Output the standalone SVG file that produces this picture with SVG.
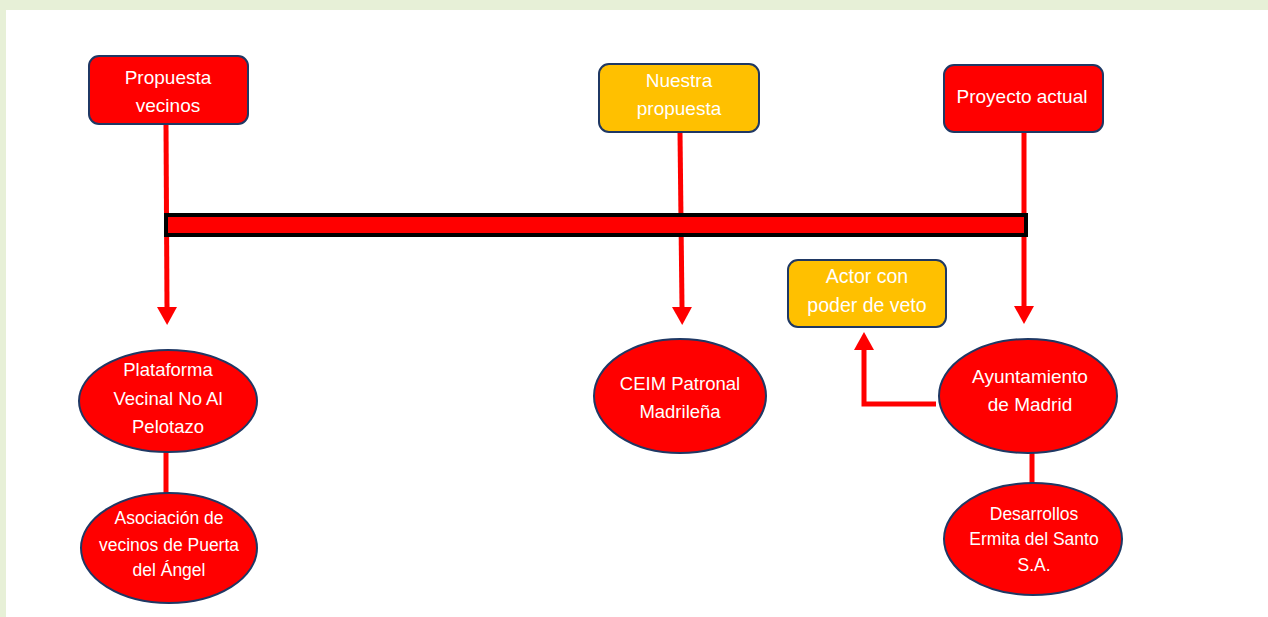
<svg xmlns="http://www.w3.org/2000/svg" width="1268" height="617" viewBox="0 0 1268 617">
<style>
.box{stroke:#1F3864;stroke-width:2}
.red{fill:#FF0000}
.org{fill:#FFC000}
.t{fill:#FFFFFF;font-family:"Liberation Sans",Arial,sans-serif;text-anchor:middle}
.ln{stroke:#FF0000;stroke-width:5;fill:none}
</style>
<defs>
<marker id="ah" markerUnits="userSpaceOnUse" markerWidth="18" markerHeight="20" refX="0" refY="10" orient="auto" viewBox="0 0 18 20">
<path d="M0,0 L18,10 L0,20 z" fill="#FF0000"/>
</marker>
</defs>
<rect x="0" y="0" width="1268" height="617" fill="#E7F0D7"/>
<rect x="6" y="10" width="1262" height="607" fill="#FFFFFF"/>
<g id="connectors">
<path class="ln" d="M166,124 L167,307" marker-end="url(#ah)"/>
<path class="ln" d="M680,132 L682,307" marker-end="url(#ah)"/>
<path class="ln" d="M1024,133 L1024,306" marker-end="url(#ah)"/>
<path class="ln" d="M936,404 L864,404 L864,350" marker-end="url(#ah)"/>
<path class="ln" d="M166,452 L166,494"/>
<path class="ln" d="M1032,452 L1032,484"/>
</g>
<g id="timeline">
<rect x="166" y="215" width="860" height="20" fill="#FF0000" stroke="#000000" stroke-width="4"/>
</g>
<g id="propuesta-vecinos">
<rect class="box red" x="89" y="56" width="159" height="68" rx="10"/>
<text class="t" font-size="19" x="168" y="84">Propuesta</text>
<text class="t" font-size="19" x="168" y="112">vecinos</text>
</g>
<g id="nuestra-propuesta">
<rect class="box org" x="599" y="64" width="160" height="68" rx="10"/>
<text class="t" font-size="19" x="679" y="87">Nuestra</text>
<text class="t" font-size="19" x="679" y="115">propuesta</text>
</g>
<g id="proyecto-actual">
<rect class="box red" x="944" y="65" width="159" height="67" rx="10"/>
<text class="t" font-size="19" x="1022" y="103">Proyecto actual</text>
</g>
<g id="actor-veto">
<rect class="box org" x="788" y="260" width="158" height="67" rx="10"/>
<text class="t" font-size="19.5" x="867" y="283">Actor con</text>
<text class="t" font-size="19.5" x="867" y="312">poder de veto</text>
</g>
<g id="plataforma">
<ellipse class="box red" cx="168" cy="401" rx="89" ry="51"/>
<text class="t" font-size="18.5" x="168" y="376">Plataforma</text>
<text class="t" font-size="18.5" x="168" y="405">Vecinal No Al</text>
<text class="t" font-size="18.5" x="168" y="433">Pelotazo</text>
</g>
<g id="asociacion">
<ellipse class="box red" cx="169" cy="548" rx="88" ry="55"/>
<text class="t" font-size="17.5" x="169" y="524">Asociación de</text>
<text class="t" font-size="17.5" x="169" y="551">vecinos de Puerta</text>
<text class="t" font-size="17.5" x="169" y="576">del Ángel</text>
</g>
<g id="ceim">
<ellipse class="box red" cx="680" cy="396" rx="86" ry="57"/>
<text class="t" font-size="18.5" x="680" y="390">CEIM Patronal</text>
<text class="t" font-size="18.5" x="680" y="418">Madrileña</text>
</g>
<g id="ayuntamiento">
<ellipse class="box red" cx="1028" cy="396" rx="89" ry="57"/>
<text class="t" font-size="19" x="1030" y="383">Ayuntamiento</text>
<text class="t" font-size="19" x="1030" y="411">de Madrid</text>
</g>
<g id="desarrollos">
<ellipse class="box red" cx="1033" cy="539" rx="89" ry="56"/>
<text class="t" font-size="17.5" x="1034" y="520">Desarrollos</text>
<text class="t" font-size="17.5" x="1034" y="545">Ermita del Santo</text>
<text class="t" font-size="17.5" x="1034" y="571">S.A.</text>
</g>
</svg>
